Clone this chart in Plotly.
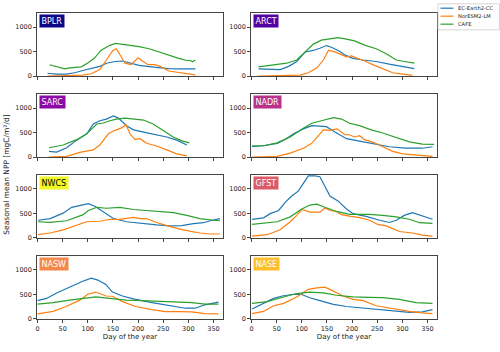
import plotly.graph_objects as go
from plotly.subplots import make_subplots

# ---- data ----
models = ["EC-Earth2-CC", "NorESM2-LM", "CAFE"]
model_colors = ["#1f77b4", "#ff7f0e", "#2ca02c"]

regions = ["BPLR", "ARCT", "SARC", "NADR", "NWCS", "GFST", "NASW", "NASE"]
region_colors = ["#0d0887", "#5302a3", "#8b0aa5", "#b83289",
                 "#f0f921", "#db5c68", "#f48849", "#febd2a"]
region_text = ["white", "white", "white", "white", "black", "white", "white", "white"]

bplr_ec_day = [20, 37, 57, 74, 90, 107, 124, 137, 154, 169, 186, 202, 222, 241, 261, 281, 300, 314]
bplr_ec = [60, 40, 40, 70, 115, 155, 200, 265, 300, 310, 265, 220, 195, 170, 155, 150, 155, 150]
bplr_nor_day = [20, 60, 90, 107, 124, 137, 150, 157, 163, 174, 186, 200, 210, 220, 234, 244, 261, 281, 300, 314]
bplr_nor = [0, 5, 20, 50, 135, 330, 525, 560, 460, 265, 235, 375, 300, 235, 235, 200, 105, 70, 40, 25]
bplr_cafe_day = [24, 41, 54, 64, 87, 100, 113, 126, 143, 155, 169, 186, 202, 222, 241, 261, 281, 297, 304, 308, 314]
bplr_cafe = [234, 190, 150, 170, 190, 270, 365, 525, 625, 670, 655, 625, 605, 560, 495, 430, 365, 320, 320, 295, 330]

arct_ec_day = [14, 34, 57, 74, 90, 107, 123, 136, 149, 159, 176, 186, 202, 222, 248, 274, 301, 324]
arct_ec = [150, 150, 135, 200, 300, 495, 525, 570, 625, 590, 505, 430, 365, 330, 300, 245, 200, 155]
arct_nor_day = [14, 97, 113, 130, 143, 153, 166, 179, 189, 199, 212, 225, 241, 261, 281, 301, 320]
arct_nor = [0, 20, 70, 170, 330, 525, 495, 440, 395, 415, 365, 310, 235, 155, 70, 40, 15]
arct_cafe_day = [14, 28, 51, 70, 90, 107, 123, 139, 156, 172, 189, 205, 225, 248, 268, 288, 304, 324]
arct_cafe = [190, 210, 235, 265, 330, 495, 655, 735, 765, 785, 755, 720, 635, 560, 460, 330, 300, 265]

sarc_ec_day = [23, 38, 58, 78, 98, 111, 124, 137, 151, 161, 177, 191, 211, 230, 257, 277, 297]
sarc_ec = [115, 100, 190, 345, 475, 675, 740, 775, 840, 795, 640, 555, 510, 465, 410, 345, 245]
sarc_nor_day = [23, 58, 84, 111, 124, 141, 154, 167, 176, 184, 194, 204, 217, 237, 257, 277, 297]
sarc_nor = [0, 15, 95, 145, 245, 475, 545, 595, 660, 475, 355, 375, 280, 225, 145, 65, 25]
sarc_cafe_day = [23, 51, 78, 98, 118, 131, 144, 157, 174, 191, 211, 230, 250, 270, 287, 302]
sarc_cafe = [190, 245, 355, 475, 675, 695, 740, 775, 795, 770, 755, 675, 545, 410, 330, 290]

nadr_ec_day = [1, 24, 51, 64, 84, 103, 120, 149, 166, 189, 215, 248, 274, 307, 340, 360]
nadr_ec = [210, 230, 280, 345, 475, 575, 640, 620, 510, 375, 325, 265, 210, 180, 180, 210]
nadr_nor_day = [1, 51, 77, 103, 120, 133, 143, 156, 170, 186, 195, 205, 215, 225, 245, 261, 281, 301, 327, 360]
nadr_nor = [0, 15, 80, 180, 280, 440, 555, 545, 575, 455, 455, 410, 435, 355, 290, 210, 115, 65, 40, 15]
nadr_cafe_day = [1, 24, 51, 77, 103, 120, 139, 163, 179, 195, 215, 238, 261, 288, 314, 340, 363]
nadr_cafe = [230, 230, 290, 410, 590, 690, 740, 805, 775, 690, 640, 555, 490, 395, 310, 265, 260]

nwcs_ec_day = [1, 25, 51, 68, 88, 101, 114, 131, 151, 177, 204, 237, 264, 287, 310, 330, 347, 363]
nwcs_ec = [360, 395, 505, 625, 670, 700, 645, 525, 395, 330, 295, 265, 245, 250, 290, 310, 360, 395]
nwcs_nor_day = [1, 25, 51, 78, 98, 124, 144, 164, 177, 191, 204, 217, 237, 264, 290, 323, 343, 363]
nwcs_nor = [65, 100, 165, 265, 330, 340, 380, 380, 405, 420, 395, 395, 315, 230, 165, 100, 80, 80]
nwcs_cafe_day = [1, 25, 58, 78, 91, 101, 118, 137, 164, 191, 217, 244, 270, 297, 323, 350, 363]
nwcs_cafe = [330, 315, 350, 430, 475, 560, 625, 605, 625, 580, 560, 540, 515, 460, 395, 360, 350]

gfst_ec_day = [1, 24, 37, 54, 67, 80, 93, 103, 113, 126, 136, 146, 156, 172, 189, 202, 228, 255, 274, 288, 304, 320, 337, 360]
gfst_ec = [380, 410, 495, 560, 725, 855, 955, 1120, 1265, 1265, 1250, 1055, 855, 755, 590, 495, 440, 360, 315, 360, 460, 515, 460, 380]
gfst_nor_day = [1, 31, 57, 77, 90, 100, 116, 136, 146, 156, 169, 179, 195, 215, 235, 251, 268, 294, 320, 340, 360]
gfst_nor = [35, 65, 165, 330, 460, 580, 525, 525, 610, 560, 540, 475, 445, 415, 360, 275, 245, 130, 100, 55, 35]
gfst_cafe_day = [1, 24, 51, 77, 100, 116, 130, 146, 169, 195, 235, 261, 288, 314, 334, 360]
gfst_cafe = [275, 295, 330, 430, 590, 670, 690, 625, 540, 480, 480, 460, 430, 380, 310, 295]

nasw_ec_day = [0, 18, 38, 57, 74, 90, 107, 120, 136, 149, 169, 195, 228, 261, 294, 314, 333, 360]
nasw_ec = [370, 415, 525, 610, 700, 765, 830, 790, 700, 545, 465, 395, 330, 275, 215, 215, 285, 340]
nasw_nor_day = [0, 31, 57, 84, 100, 116, 136, 149, 169, 195, 228, 254, 280, 307, 333, 360]
nasw_nor = [100, 150, 250, 380, 500, 545, 465, 460, 350, 250, 185, 145, 145, 140, 105, 100]
nasw_cafe_day = [0, 31, 64, 97, 116, 143, 176, 208, 241, 274, 307, 333, 360]
nasw_cafe = [300, 330, 380, 430, 445, 415, 380, 370, 355, 355, 330, 300, 300]

nase_ec_day = [1, 24, 44, 61, 84, 100, 116, 136, 163, 189, 222, 255, 288, 314, 340, 360]
nase_ec = [200, 315, 415, 465, 500, 495, 430, 370, 295, 250, 215, 185, 150, 130, 140, 185]
nase_nor_day = [1, 24, 44, 64, 90, 113, 130, 146, 156, 166, 182, 202, 222, 248, 281, 314, 340, 360]
nase_nor = [105, 150, 265, 315, 445, 600, 630, 645, 600, 545, 465, 395, 370, 265, 200, 150, 120, 105]
nase_cafe_day = [1, 31, 64, 90, 116, 143, 169, 202, 235, 261, 294, 327, 360]
nase_cafe = [315, 350, 445, 515, 545, 530, 480, 445, 435, 430, 395, 330, 315]

series = {
    "BPLR": [(bplr_ec_day, bplr_ec), (bplr_nor_day, bplr_nor), (bplr_cafe_day, bplr_cafe)],
    "ARCT": [(arct_ec_day, arct_ec), (arct_nor_day, arct_nor), (arct_cafe_day, arct_cafe)],
    "SARC": [(sarc_ec_day, sarc_ec), (sarc_nor_day, sarc_nor), (sarc_cafe_day, sarc_cafe)],
    "NADR": [(nadr_ec_day, nadr_ec), (nadr_nor_day, nadr_nor), (nadr_cafe_day, nadr_cafe)],
    "NWCS": [(nwcs_ec_day, nwcs_ec), (nwcs_nor_day, nwcs_nor), (nwcs_cafe_day, nwcs_cafe)],
    "GFST": [(gfst_ec_day, gfst_ec), (gfst_nor_day, gfst_nor), (gfst_cafe_day, gfst_cafe)],
    "NASW": [(nasw_ec_day, nasw_ec), (nasw_nor_day, nasw_nor), (nasw_cafe_day, nasw_cafe)],
    "NASE": [(nase_ec_day, nase_ec), (nase_nor_day, nase_nor), (nase_cafe_day, nase_cafe)],
}

x_ticks = [0, 50, 100, 150, 200, 250, 300, 350]
y_ticks = [0, 500, 1000]

# ---- figure ----
fig = make_subplots(rows=4, cols=2, horizontal_spacing=0.07, vertical_spacing=0.057)

for i, reg in enumerate(regions):
    row, col = i // 2 + 1, i % 2 + 1
    for j, (d, v) in enumerate(series[reg]):
        fig.add_trace(go.Scatter(x=d, y=v, mode="lines", name=models[j],
                                 line=dict(color=model_colors[j], width=1.2),
                                 showlegend=False), row=row, col=col)
    fig.add_annotation(text=reg, xref="x domain", yref="y domain", x=0.01, y=0.985,
                       xanchor="left", yanchor="top", showarrow=False,
                       font=dict(size=8, color=region_text[i]),
                       bgcolor=region_colors[i], borderpad=1.5,
                       row=row, col=col)

axis_style = dict(showline=True, linecolor="#444", linewidth=0.8, mirror=True,
                  ticks="outside", ticklen=3, tickcolor="#444", showgrid=False,
                  zeroline=False, tickfont=dict(size=6.5, color="#222"))
fig.update_xaxes(range=[-1, 369], tickvals=x_ticks, **axis_style)
fig.update_yaxes(range=[-5, 1290], tickvals=y_ticks, **axis_style)
for r in (1, 2, 3):
    fig.update_xaxes(showticklabels=False, row=r)
fig.update_xaxes(title=dict(text="Day of the year", font=dict(size=7, color="#222"), standoff=2), row=4)

# plot area: 400 x 318 px starting at (37, 13)
px_x = lambda p: (p - 37) / 400
px_y = lambda p: 1 - (p - 13) / 318

fig.add_annotation(text="Seasonal mean NPP [mgC/m²/d]", xref="paper", yref="paper",
                   x=px_x(7), y=px_y(181), xanchor="center", yanchor="middle",
                   textangle=-90, showarrow=False,
                   font=dict(size=7.5, color="#222"))

# legend box drawn by hand to keep it compact like the original
fig.add_shape(type="rect", xref="paper", yref="paper", x0=px_x(438), x1=px_x(499.5),
              y0=px_y(30.5), y1=px_y(3.5), line=dict(color="#ccc", width=0.8),
              fillcolor="white")
for j, m in enumerate(models):
    yy = px_y(8 + j * 8.3)
    fig.add_shape(type="line", xref="paper", yref="paper", x0=px_x(440.5), x1=px_x(453.5),
                  y0=yy, y1=yy, line=dict(color=model_colors[j], width=1.2))
    fig.add_annotation(text=m, xref="paper", yref="paper", x=px_x(456), y=yy,
                       xanchor="left", yanchor="middle", showarrow=False,
                       font=dict(size=5.2, color="#222"))

fig.update_layout(width=500, height=352, margin=dict(l=37, r=63, t=13, b=21),
                  plot_bgcolor="white", paper_bgcolor="white",
                  font=dict(family="DejaVu Sans"), showlegend=False)

# page body has an 8px default margin; drop it so the figure sits at the origin
fig.write_html("out.html", config={"displayModeBar": False},
               post_script="document.body.style.margin='0';")
